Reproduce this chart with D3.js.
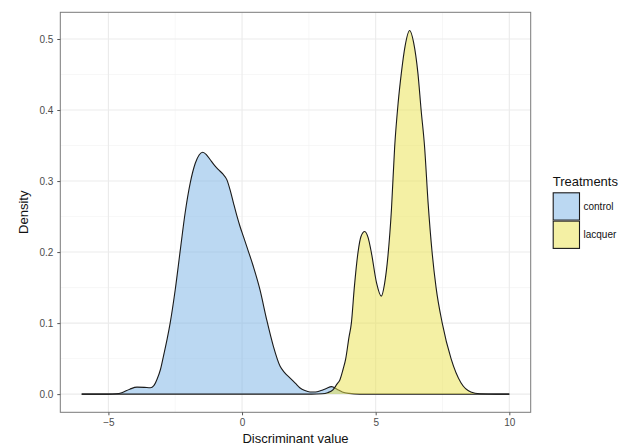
<!DOCTYPE html>
<html>
<head>
<meta charset="utf-8">
<script src="https://cdn.jsdelivr.net/npm/d3@7"></script>
<style>
  body { margin: 0; background: #fff; }
  text { font-family: "Liberation Sans", Arial, sans-serif; }
</style>
</head>
<body>
<svg id="mainsvg" width="629" height="448"></svg>
<script>
// density estimates
const controlX = [-6, -5, -4.7, -4.5, -4.2, -3.93, -3.65, -3.43, -3.3, -3.18, -3.05, -2.94, -2.8, -2.69, -2.5, -2.31, -2.13, -1.94, -1.75, -1.6, -1.47, -1.33, -1.19, -1.03, -0.88, -0.72, -0.57, -0.45, -0.32, -0.2, -0.075, 0.05, 0.175, 0.42, 0.67, 0.92, 1.17, 1.42, 1.6, 1.79, 2.0, 2.16, 2.35, 2.54, 2.75, 2.95, 3.15, 3.35, 3.55, 3.75, 4.0, 4.4, 10]
const controlDensity = [0, 0, 0.0005, 0.002, 0.007, 0.0098, 0.0095, 0.009, 0.012, 0.021, 0.035, 0.0535, 0.078, 0.1, 0.147, 0.203, 0.255, 0.297, 0.325, 0.337, 0.3406, 0.337, 0.33, 0.322, 0.316, 0.31, 0.302, 0.288, 0.269, 0.252, 0.236, 0.222, 0.208, 0.18, 0.147, 0.105, 0.0676, 0.0395, 0.03, 0.023, 0.015, 0.009, 0.005, 0.003, 0.003, 0.005, 0.008, 0.0105, 0.007, 0.003, 0.001, 0, 0]

const lacquerX = [-6, 2.6, 3.0, 3.2, 3.4, 3.55, 3.66, 3.78, 3.88, 4.0, 4.09, 4.2, 4.34, 4.45, 4.59, 4.72, 4.84, 5.03, 5.21, 5.33, 5.46, 5.59, 5.71, 5.84, 5.96, 6.1, 6.27, 6.42, 6.58, 6.7, 6.83, 6.96, 7.11, 7.26, 7.49, 7.82, 8.19, 8.56, 8.9, 9.5, 10]
const lacquerDensity = [0, 0, 0.0005, 0.002, 0.006, 0.014, 0.02, 0.035, 0.05, 0.08, 0.1, 0.15, 0.2, 0.222, 0.229, 0.22, 0.199, 0.157, 0.138, 0.155, 0.195, 0.26, 0.348, 0.41, 0.452, 0.49, 0.512, 0.495, 0.452, 0.4, 0.348, 0.27, 0.2, 0.15, 0.1, 0.05, 0.016, 0.003, 0.0005, 0, 0]

const groups = ['control', 'lacquer']
const groupColors = ['#77b1e6', '#e9e24a']
const xTicks = [-5, 0, 5, 10]
const yTicks = [0, 0.1, 0.2, 0.3, 0.4, 0.5]

const panel = {left: 60.3, right: 530.7, top: 12.3, bottom: 412.3}

const x = d3.scaleLinear().domain([-6.8, 10.8]).range([panel.left, panel.right])
const y = d3.scaleLinear().domain([-0.0256, 0.5376]).range([panel.bottom, panel.top])

const svg = d3.select('#mainsvg')
const g = svg.append('g')

// grid, minor then major
const xMinor = d3.range(-7.5, 11, 5).filter(v => v > -6.8 && v < 10.8)
const yMinor = [0.05, 0.15, 0.25, 0.35, 0.45]
g.selectAll('.xminor').data(xMinor).join('line')
  .attr('x1', d => x(d)).attr('x2', d => x(d))
  .attr('y1', panel.top).attr('y2', panel.bottom)
  .attr('stroke', '#f2f2f2').attr('stroke-width', 0.6)
g.selectAll('.yminor').data(yMinor).join('line')
  .attr('y1', d => y(d)).attr('y2', d => y(d))
  .attr('x1', panel.left).attr('x2', panel.right)
  .attr('stroke', '#f2f2f2').attr('stroke-width', 0.6)
g.selectAll('.xmajor').data(xTicks).join('line')
  .attr('x1', d => x(d)).attr('x2', d => x(d))
  .attr('y1', panel.top).attr('y2', panel.bottom)
  .attr('stroke', '#ebebeb').attr('stroke-width', 1.1)
g.selectAll('.ymajor').data(yTicks).join('line')
  .attr('y1', d => y(d)).attr('y2', d => y(d))
  .attr('x1', panel.left).attr('x2', panel.right)
  .attr('stroke', '#ebebeb').attr('stroke-width', 1.1)

// densities
const series = [
  {name: 'control', xs: controlX, ds: controlDensity},
  {name: 'lacquer', xs: lacquerX, ds: lacquerDensity}
]
const area = d3.area().x(d => x(d[0])).y0(y(0)).y1(d => y(d[1])).curve(d3.curveMonotoneX)
const line = d3.line().x(d => x(d[0])).y(d => y(d[1])).curve(d3.curveMonotoneX)

series.forEach((s, i) => {
  const pts = s.xs.map((v, j) => [v, s.ds[j]])
  g.append('path').attr('d', area(pts))
    .attr('fill', groupColors[i]).attr('fill-opacity', 0.5)
  g.append('path').attr('d', line(pts))
    .attr('fill', 'none').attr('stroke', '#1a1a1a').attr('stroke-width', 1.1)
})

// panel border
g.append('rect')
  .attr('x', panel.left).attr('y', panel.top)
  .attr('width', panel.right - panel.left).attr('height', panel.bottom - panel.top)
  .attr('fill', 'none').attr('stroke', '#7a7a7a').attr('stroke-width', 1)

// axes
const xAxis = d3.axisBottom(x).tickValues(xTicks).tickSize(3).tickPadding(4)
const yAxis = d3.axisLeft(y).tickValues(yTicks).tickSize(3).tickPadding(4).tickFormat(d3.format('.1f'))

const gx = svg.append('g').attr('transform', `translate(0,${panel.bottom})`).call(xAxis)
const gy = svg.append('g').attr('transform', `translate(${panel.left},0)`).call(yAxis)
;[gx, gy].forEach(a => {
  a.select('.domain').remove()
  a.selectAll('.tick line').attr('stroke', '#555')
  a.selectAll('.tick text').attr('fill', '#4d4d4d').style('font-size', '10px')
})

svg.append('text')
  .attr('x', (panel.left + panel.right) / 2).attr('y', 443)
  .attr('text-anchor', 'middle').style('font-size', '13px').attr('fill', '#111')
  .text('Discriminant value')

svg.append('text')
  .attr('transform', `translate(28,${(panel.top + panel.bottom) / 2}) rotate(-90)`)
  .attr('text-anchor', 'middle').style('font-size', '13px').attr('fill', '#111')
  .text('Density')

// legend
const lg = svg.append('g').attr('transform', 'translate(552.7,175)')
lg.append('text').attr('x', 0).attr('y', 11).style('font-size', '13px').attr('fill', '#111')
  .text('Treatments')
const keyH = 28.3, keyW = 27.3
groups.forEach((name, i) => {
  const ky = 17.3 + i * keyH
  lg.append('rect').attr('x', 0).attr('y', ky).attr('width', keyW).attr('height', keyH)
    .attr('fill', '#fff')
  lg.append('rect').attr('x', 0.5).attr('y', ky + 0.5).attr('width', keyW - 1).attr('height', keyH - 1)
    .attr('fill', groupColors[i]).attr('fill-opacity', 0.5)
    .attr('stroke', '#1a1a1a').attr('stroke-width', 1.1)
  lg.append('text').attr('x', keyW + 3.5).attr('y', ky + keyH / 2 + 3.5)
    .style('font-size', '10px').attr('fill', '#111').text(name)
})
</script>
</body>
</html>
